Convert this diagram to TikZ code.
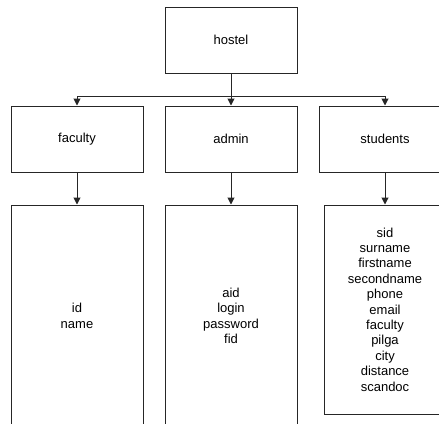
\documentclass[tikz,border=0pt]{standalone}
\usepackage{fontspec}
\setmainfont{Liberation Sans}
\usetikzlibrary{arrows.meta}
\begin{document}
\begin{tikzpicture}[x=1pt,y=-1pt,
  box/.style={draw=black!85,line width=1pt,minimum width=132pt,minimum height=66pt,inner sep=0pt,align=center,font=\fontsize{13}{15.4}\selectfont},
  arr/.style={draw=black!85,line width=1pt,-{Triangle[width=7pt,length=7pt]}}]
\useasboundingbox (0,0) rectangle (439,423);
\fill[white] (0,0) rectangle (439,423);
\node[box] (hostel) at (231,40) {hostel};
\node[box] (faculty) at (77,139) {faculty};
\node[box] (admin) at (231,139) {admin};
\node[box] (students) at (385,139) {students};
\node[box,minimum height=222pt] (facattr) at (77,316) {id\\name};
\node[box,minimum height=222pt] (admattr) at (231,316) {aid\\login\\password\\fid};
\node[box,minimum width=122pt,minimum height=209pt] (stuattr) at (385,309.5) {sid\\surname\\firstname\\secondname\\phone\\email\\faculty\\pilga\\city\\distance\\scandoc};
\coordinate (split) at (231,96);
\draw[draw=black!85,line width=1pt] (hostel.south) -- (split);
\draw[arr] (split) -| (faculty.north);
\draw[arr] (split) -- (admin.north);
\draw[arr] (split) -| (students.north);
\draw[arr] (faculty.south) -- (facattr.north);
\draw[arr] (admin.south) -- (admattr.north);
\draw[arr] (students.south) -- (stuattr.north);
\end{tikzpicture}
\end{document}
